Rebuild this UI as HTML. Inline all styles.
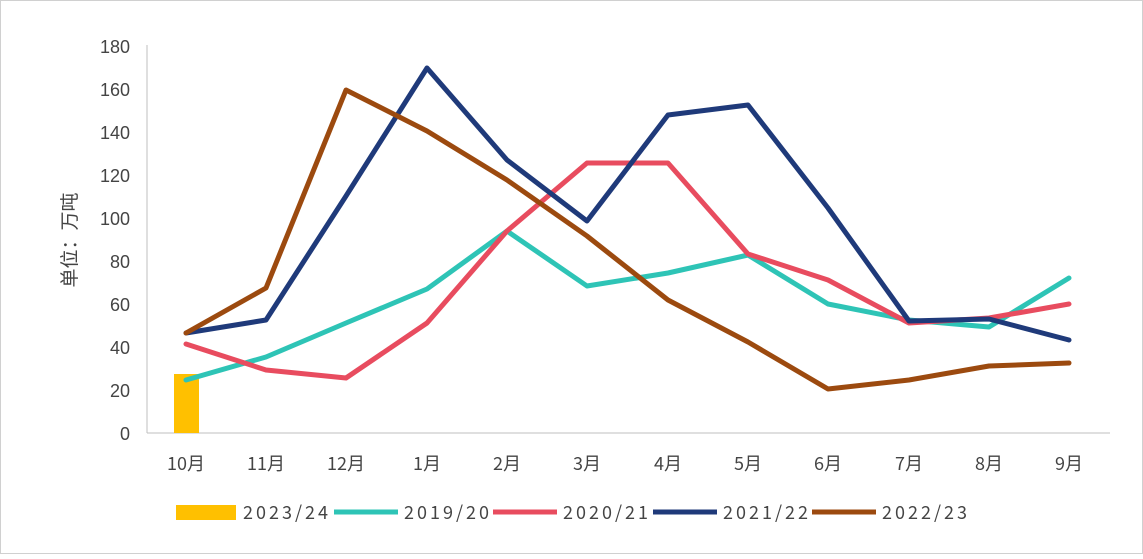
<!DOCTYPE html>
<html><head><meta charset="utf-8"><style>
html,body{margin:0;padding:0;background:#fff}
svg text{font-family:"Liberation Sans","Noto Sans CJK SC",sans-serif;fill:#444}
svg text.n{font-family:"Noto Sans CJK SC",sans-serif}
</style></head><body>
<svg width="1143" height="554" viewBox="0 0 1143 554" xmlns="http://www.w3.org/2000/svg">
<rect x="0.5" y="0.5" width="1142" height="553" fill="#fff" stroke="#d0d0d0"/>
<line x1="147" y1="45" x2="147" y2="433" stroke="#bfbfbf" stroke-width="1"/>
<line x1="147" y1="433" x2="1110" y2="433" stroke="#bfbfbf" stroke-width="1"/>
<g font-size="18" text-anchor="end">
<text x="130" y="440">0</text><text x="130" y="397">20</text><text x="130" y="354">40</text>
<text x="130" y="311">60</text><text x="130" y="268">80</text><text x="130" y="225">100</text>
<text x="130" y="182">120</text><text x="130" y="139">140</text><text x="130" y="96">160</text>
<text x="130" y="53">180</text>
</g>
<text class="n" transform="translate(76,240) rotate(-90)" font-size="19" text-anchor="middle">单位：万吨</text>
<g font-size="18" text-anchor="middle">
<text class="n" x="186" y="470">10月</text><text class="n" x="266" y="470">11月</text><text class="n" x="346" y="470">12月</text>
<text class="n" x="427" y="470">1月</text><text class="n" x="507" y="470">2月</text><text class="n" x="587" y="470">3月</text>
<text class="n" x="668" y="470">4月</text><text class="n" x="748" y="470">5月</text><text class="n" x="828" y="470">6月</text>
<text class="n" x="909" y="470">7月</text><text class="n" x="989" y="470">8月</text><text class="n" x="1069" y="470">9月</text>
</g>
<rect x="174" y="374" width="25" height="59" fill="#FFC000"/>
<g fill="none" stroke-width="5" stroke-linejoin="round" stroke-linecap="round">
<polyline stroke="#2EC4B6" points="186,380 266,357 346,323 427,289 507,231 587,286 668,273 748,255 828,304 909,320 989,327 1069,278"/>
<polyline stroke="#E84C5F" points="186,344 266,370 346,378 427,323 507,231 587,163 668,163 748,254 828,280 909,323 989,318 1069,304"/>
<polyline stroke="#1F3A7A" points="186,333 266,320 346,196 427,68 507,160 587,221 668,115 748,105 828,208 909,321 989,319 1069,340"/>
<polyline stroke="#9C4A0F" points="186,333 266,288 346,90 427,131 507,180 587,236 668,300 748,342 828,389 909,380 989,366 1069,363"/>
</g>
<g font-size="18">
<rect x="176" y="505" width="60" height="15" fill="#FFC000"/>
<text class="n" x="243" y="519" textLength="85">2023/24</text>
<line x1="334" y1="512" x2="398" y2="512" stroke="#2EC4B6" stroke-width="5"/>
<text class="n" x="404" y="519" textLength="85">2019/20</text>
<line x1="493" y1="512" x2="557" y2="512" stroke="#E84C5F" stroke-width="5"/>
<text class="n" x="563" y="519" textLength="85">2020/21</text>
<line x1="653" y1="512" x2="717" y2="512" stroke="#1F3A7A" stroke-width="5"/>
<text class="n" x="723" y="519" textLength="85">2021/22</text>
<line x1="812" y1="512" x2="876" y2="512" stroke="#9C4A0F" stroke-width="5"/>
<text class="n" x="882" y="519" textLength="85">2022/23</text>
</g>
</svg>
</body></html>
